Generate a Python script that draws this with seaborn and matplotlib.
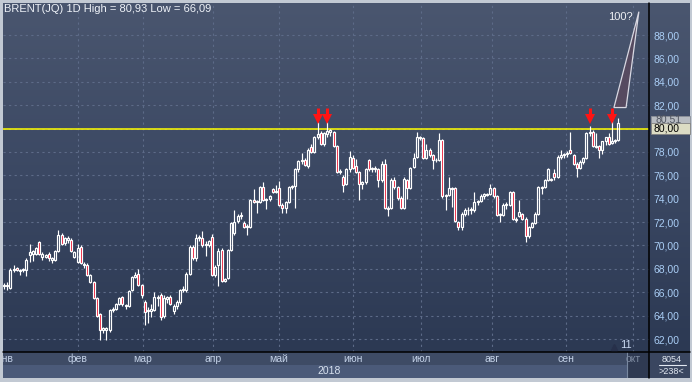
import numpy as np
import matplotlib
matplotlib.use("Agg")
import matplotlib.pyplot as plt
import seaborn as sns
from matplotlib.colors import LinearSegmentedColormap
from matplotlib.patches import Rectangle, Polygon
from matplotlib.lines import Line2D

# дневные свечи BRENT, янв - сен 2018
opens = [66.5, 66.6, 66.4, 67.9, 68.1, 67.8, 67.9, 67.9, 69.2, 69.3, 69.3, 70.3, 69.0, 69.0, 69.3, 68.8, 68.8, 69.5, 70.9, 70.2,
         70.5, 70.5, 69.0, 68.6, 69.9, 68.3, 68.3, 66.9, 66.9, 65.5, 64.1, 62.8, 62.8, 62.8, 64.5, 64.6, 65.0, 65.6, 64.8, 64.8,
         66.2, 67.3, 67.6, 66.6, 65.2, 64.4, 64.4, 64.5, 65.5, 65.8, 64.0, 65.4, 65.6, 64.4, 64.8, 65.2, 66.2, 66.2, 67.6, 69.9,
         68.9, 70.6, 70.6, 70.0, 70.0, 70.7, 67.5, 68.3, 69.6, 67.0, 67.2, 69.6, 71.1, 72.1, 72.5, 71.9, 71.6, 71.6, 73.9, 73.7,
         73.7, 75.0, 73.9, 74.0, 74.8, 74.6, 74.9, 73.5, 73.2, 73.7, 75.0, 75.1, 76.5, 77.2, 77.3, 76.8, 78.4, 78.0, 79.3, 79.6,
         78.7, 79.5, 79.7, 79.7, 78.5, 76.3, 75.9, 75.3, 76.5, 77.5, 76.8, 76.3, 75.3, 75.4, 77.3, 76.5, 76.5, 76.5, 75.6, 77.0,
         73.1, 73.2, 75.6, 75.0, 74.1, 73.2, 75.6, 74.9, 76.7, 77.6, 79.2, 79.2, 77.5, 78.2, 77.7, 77.3, 77.3, 79.0, 74.2, 74.3,
         74.9, 74.9, 72.0, 71.6, 72.7, 73.0, 73.0, 73.0, 73.7, 73.8, 74.2, 74.3, 74.4, 74.9, 74.2, 72.6, 72.6, 73.5, 73.5, 74.6,
         72.2, 72.5, 72.7, 72.3, 70.8, 71.6, 71.9, 72.7, 75.0, 75.0, 75.6, 75.7, 76.2, 75.9, 77.6, 77.7, 77.8, 78.2, 77.7, 77.0,
         76.6, 77.1, 77.5, 79.6, 79.7, 78.4, 78.5, 78.2, 78.9, 79.3, 78.8, 78.9, 79.0]
highs = [66.8, 66.9, 68.1, 68.3, 68.2, 68.0, 68.1, 68.9, 70.1, 69.6, 69.9, 70.4, 69.4, 69.3, 69.4, 69.0, 69.6, 71.3, 71.1, 70.7,
         70.8, 70.6, 69.5, 70.1, 70.0, 68.6, 68.5, 67.6, 67.0, 65.6, 64.2, 63.0, 63.0, 64.6, 64.7, 65.1, 65.6, 65.7, 65.0, 66.2,
         67.4, 67.7, 68.0, 66.7, 65.3, 64.7, 65.0, 66.0, 65.8, 65.9, 65.8, 65.7, 65.8, 65.0, 65.3, 66.3, 66.5, 67.7, 70.0, 70.0,
         71.0, 70.9, 71.2, 70.4, 70.5, 71.0, 68.3, 69.8, 69.8, 67.2, 69.7, 72.0, 73.0, 72.7, 72.9, 72.1, 71.8, 74.0, 74.8, 73.9,
         75.1, 75.4, 74.1, 74.3, 74.9, 75.2, 75.5, 73.6, 73.8, 75.1, 75.2, 76.6, 77.3, 77.9, 77.5, 78.3, 78.7, 79.4, 80.6, 79.8,
         79.7, 80.6, 80.0, 79.8, 78.6, 76.5, 76.0, 76.6, 78.1, 77.7, 77.4, 76.4, 75.5, 76.6, 77.4, 76.7, 76.8, 76.6, 77.2, 77.4,
         73.4, 75.8, 75.9, 75.1, 74.2, 75.9, 75.7, 76.7, 77.9, 79.7, 79.4, 79.3, 78.7, 78.3, 77.8, 77.5, 79.6, 79.1, 74.4, 75.9,
         75.0, 75.0, 72.1, 72.9, 73.2, 73.3, 73.3, 74.6, 73.9, 74.4, 74.5, 74.5, 75.3, 75.0, 74.3, 72.8, 73.6, 73.7, 74.7, 74.7,
         72.4, 73.9, 72.8, 72.4, 71.7, 72.0, 72.9, 75.1, 75.1, 75.7, 76.6, 75.8, 76.5, 77.7, 78.2, 77.9, 78.1, 79.7, 77.8, 77.1,
         77.3, 77.6, 79.7, 80.2, 79.9, 79.6, 78.6, 78.9, 79.3, 79.6, 80.7, 79.1, 80.93]
lows = [66.3, 66.2, 66.3, 67.7, 67.8, 67.5, 67.7, 67.4, 68.6, 68.7, 69.2, 69.2, 68.8, 68.9, 68.7, 68.5, 68.7, 69.4, 70.0, 70.0,
        70.2, 69.4, 68.9, 68.5, 68.4, 68.1, 67.4, 66.8, 65.4, 63.9, 61.9, 62.5, 61.9, 62.6, 64.3, 64.5, 64.9, 64.8, 64.6, 64.7,
        66.1, 67.2, 66.5, 65.5, 63.2, 63.4, 63.9, 64.4, 64.8, 63.6, 63.8, 65.1, 64.9, 64.1, 64.6, 65.0, 66.0, 66.0, 67.5, 68.8,
        68.7, 70.4, 69.9, 69.1, 69.9, 67.4, 67.3, 66.5, 66.9, 66.9, 67.1, 69.5, 70.9, 71.9, 72.3, 71.5, 70.9, 71.5, 73.6, 72.8,
        73.6, 73.8, 73.1, 73.8, 74.5, 74.5, 73.4, 72.8, 72.8, 73.6, 74.8, 73.2, 76.3, 77.0, 76.8, 76.6, 77.9, 77.9, 79.1, 78.6,
        78.5, 79.3, 79.4, 78.4, 76.2, 76.1, 74.6, 75.2, 76.3, 76.5, 76.2, 73.9, 74.8, 75.3, 76.4, 76.3, 76.3, 75.0, 75.4, 73.1,
        72.5, 73.1, 74.8, 73.9, 73.1, 73.1, 74.0, 74.8, 76.6, 77.5, 79.0, 77.4, 77.4, 77.6, 76.5, 77.1, 77.2, 74.1, 73.0, 74.2,
        73.3, 72.0, 71.3, 71.3, 72.5, 72.6, 72.7, 72.9, 73.5, 73.7, 74.0, 74.2, 74.3, 74.1, 72.5, 72.0, 72.5, 73.1, 73.4, 72.2,
        72.0, 72.4, 72.2, 70.3, 70.6, 71.5, 71.8, 72.6, 74.4, 74.9, 75.5, 75.5, 75.6, 75.8, 77.4, 77.5, 77.6, 77.8, 76.9, 75.9,
        76.5, 77.0, 77.4, 79.4, 78.4, 78.3, 77.5, 77.8, 78.6, 78.6, 78.7, 78.8, 78.9]
closes = [66.6, 66.5, 67.9, 68.0, 67.9, 67.9, 68.0, 68.8, 69.4, 69.5, 69.8, 69.3, 69.3, 69.2, 68.9, 68.9, 69.5, 70.9, 70.1, 70.6,
          70.6, 69.5, 69.4, 69.8, 68.5, 68.4, 67.5, 67.5, 65.5, 64.0, 62.8, 62.9, 62.9, 64.5, 64.6, 65.0, 65.5, 65.0, 64.9, 66.1,
          67.3, 67.5, 66.6, 65.8, 64.3, 64.5, 64.6, 65.6, 65.6, 63.9, 65.5, 65.6, 65.0, 64.8, 65.2, 66.2, 66.3, 67.6, 69.9, 68.9,
          70.6, 70.7, 70.0, 70.1, 70.4, 67.5, 68.2, 69.5, 67.0, 67.1, 69.6, 71.9, 72.0, 72.5, 72.6, 71.6, 71.7, 73.9, 73.7, 73.8,
          75.0, 73.9, 74.0, 74.2, 74.6, 74.7, 73.5, 73.2, 73.7, 75.0, 75.1, 76.5, 77.2, 77.3, 76.9, 78.2, 78.0, 79.3, 79.5, 78.7,
          79.6, 79.8, 79.9, 78.5, 76.3, 76.4, 75.2, 76.5, 77.6, 76.6, 76.3, 75.3, 75.4, 76.5, 76.5, 76.6, 76.6, 75.6, 77.0, 73.2,
          73.2, 75.6, 75.0, 74.1, 73.2, 75.7, 74.9, 76.6, 77.5, 79.3, 79.3, 77.5, 78.2, 77.7, 77.3, 77.3, 79.0, 74.2, 74.3, 74.9,
          74.8, 72.1, 71.6, 72.7, 73.0, 73.0, 73.1, 73.7, 73.8, 74.2, 74.4, 74.4, 74.9, 74.2, 72.6, 72.7, 73.5, 73.5, 74.6, 72.3,
          72.3, 72.9, 72.3, 70.8, 71.6, 71.9, 72.7, 75.0, 74.9, 75.6, 76.5, 75.6, 75.9, 77.6, 77.7, 77.8, 77.9, 77.9, 77.0, 76.6,
          77.1, 77.5, 79.6, 79.7, 78.5, 78.5, 78.2, 78.9, 79.3, 78.7, 78.9, 79.0, 80.51]

# начало месяцев (в номерах свечей) и подписи
month_pos = [0.3, 23.1, 43.4, 65.4, 85.9, 109.1, 130.3, 152.5, 175.6, 196.5]
month_names = ["янв", "фев", "мар", "апр", "май", "июн", "июл", "авг", "сен", "окт"]
price_ticks = list(range(62, 90, 2))
level = 80.0
arrow_days = [98, 101, 183, 190]
title = "BRENT(JQ) 1D High = 80,93 Low = 66,09"

W, H = 692, 382


def px(l, t, r, b):
    return [l / W, 1 - b / H, (r - l) / W, (b - t) / H]


sns.set_theme(style="dark")
plt.rcParams['font.family'] = ['Liberation Sans', 'DejaVu Sans']

fig = plt.figure(figsize=(W / 100, H / 100), dpi=100, facecolor="#c2c9d3")

# фон: градиент
bg = fig.add_axes(px(3, 3, 690, 352))
cmap = LinearSegmentedColormap.from_list("bg", ["#4a566f", "#3b4863", "#2c3953"])
bg.imshow(np.linspace(0, 1, 256).reshape(-1, 1), aspect="auto", cmap=cmap, extent=[0, 1, 0, 1])
bg.set_axis_off()

# основной график
ax = fig.add_axes(px(3, 3, 649, 352))
ax.patch.set_alpha(0)
o = np.array(opens)
h = np.array(highs)
lo = np.array(lows)
c = np.array(closes)
x = np.arange(len(o))
top = np.maximum(o, c)
bot = np.minimum(o, c)
up = c >= o

ax.vlines(x, top, h, color="white", lw=0.85, zorder=3)
ax.vlines(x, lo, bot, color="white", lw=0.85, zorder=3)
body = np.maximum(top - bot, 0.04)
ax.bar(x[up], body[up], bottom=bot[up], width=0.64, facecolor="none",
       edgecolor="white", linewidth=0.85, zorder=4)
ax.bar(x[~up], body[~up], bottom=bot[~up], width=0.64, facecolor="#e8102c",
       edgecolor="white", linewidth=0.85, zorder=4)

ax.axhline(level, color="#ffff00", lw=1.1, zorder=2)

# красные стрелки над вершинами
ax.vlines(arrow_days, 81.05, 81.8, color="#ff1414", lw=2.2, zorder=6)
ax.plot(arrow_days, [80.85] * len(arrow_days), ls="none", marker="v", markersize=6.5,
        color="#ff1414", markeredgewidth=0, zorder=6)

ax.add_patch(Polygon([(198.4, 90.0), (190.6, 81.8), (194.4, 81.8)], closed=True,
                     facecolor="#564a60", edgecolor="#d8d8e2", lw=0.9, zorder=5))
ax.text(192.6, 89.55, "100?", color="#eef0f4", fontsize=8, ha="center", va="center", zorder=6)

ax.set_xlim((3 - 4) / 3.2, (649 - 4) / 3.2)
ax.set_ylim(62 - 13 / 11.69, 62 + 336 / 11.69)
ax.set_xticks(month_pos[1:])
ax.set_xticklabels([])
ax.set_yticks(price_ticks)
ax.set_yticklabels(["%d,00" % p for p in price_ticks])
ax.yaxis.tick_right()
ax.tick_params(axis="y", length=0, pad=3, labelsize=7.5, labelcolor="#a9cdf5")
ax.tick_params(axis="x", length=0)
ax.grid(True, color="#5d6b88", lw=0.8, linestyle=(0, (2, 3)))
sns.despine(ax=ax, left=True, bottom=True, right=True, top=True)

# нижняя шкала с месяцами
band = fig.add_axes(px(3, 352, 649, 378))
band.set_xlim(ax.get_xlim())
band.set_ylim(0, 1)
band.axhspan(0.5, 1, color="#3e4b65", lw=0)
band.axhspan(0, 0.5, color="#4b5a79", lw=0)
band.axvspan(194.8, ax.get_xlim()[1], color="#2f3a52", lw=0)
band.axvline(194.8, color="#7888a0", lw=0.8)
for pos, name in zip(month_pos, month_names):
    col = "#7d8aa0" if name == "окт" else "#c4d2e8"
    band.text(pos, 0.74, name, ha="center", va="center", fontsize=7.5, color=col, clip_on=True)
band.text(0.505, 0.26, "2018", transform=band.transAxes, ha="center", va="center",
          fontsize=7.5, color="#d8e2f0")
band.set_axis_off()

# правый нижний блок
corner = fig.add_axes(px(649, 352, 690, 378))
corner.set_facecolor("#3a4660")
corner.set_xticks([])
corner.set_yticks([])
for s in corner.spines.values():
    s.set_visible(False)
corner.text(0.55, 0.73, "8054", ha="center", va="center", fontsize=6.5, color="#e2e8f2", transform=corner.transAxes)
corner.text(0.55, 0.24, ">238<", ha="center", va="center", fontsize=6.5, color="#e2e8f2", transform=corner.transAxes)
corner.add_line(Line2D([0.25, 0.9], [0.49, 0.49], color="#e2e8f2", lw=0.8, transform=corner.transAxes))

# разделительные линии
fig.add_artist(Line2D([649 / W, 649 / W], [1 - 3 / H, 1 - 378 / H], color="black", lw=1.1))
fig.add_artist(Line2D([3 / W, 690 / W], [1 - 352 / H, 1 - 352 / H], color="black", lw=1.1))

# плашки цены справа
fig.add_artist(Rectangle((651 / W, 1 - 124 / H), 39 / W, 8 / H, facecolor="#b8bcc2", edgecolor="#8c9098", lw=0.6))
fig.text(655 / W, 1 - 119 / H, "80,51", fontsize=7.5, color="#505560", va="center")
fig.add_artist(Rectangle((651 / W, 1 - 134 / H), 39 / W, 11 / H, facecolor="#dcdcc4", edgecolor="#808080", lw=0.6))
fig.text(654 / W, 1 - 128.5 / H, "80,00", fontsize=7.5, color="black", va="center")

# заголовок и прочее
fig.text(4 / W, 1 - 8.5 / H, title, fontsize=8, color="#eef2f8", va="center", ha="left")
fig.text(620 / W, 1 - 345 / H, "11", fontsize=8, color="#c8d8f0", va="center", ha="left")
fig.add_artist(Line2D([614 / W], [1 - 347 / H], marker="^", markersize=5, color="#27304a", lw=0))

fig.savefig("out.png", dpi=100, facecolor=fig.get_facecolor())
